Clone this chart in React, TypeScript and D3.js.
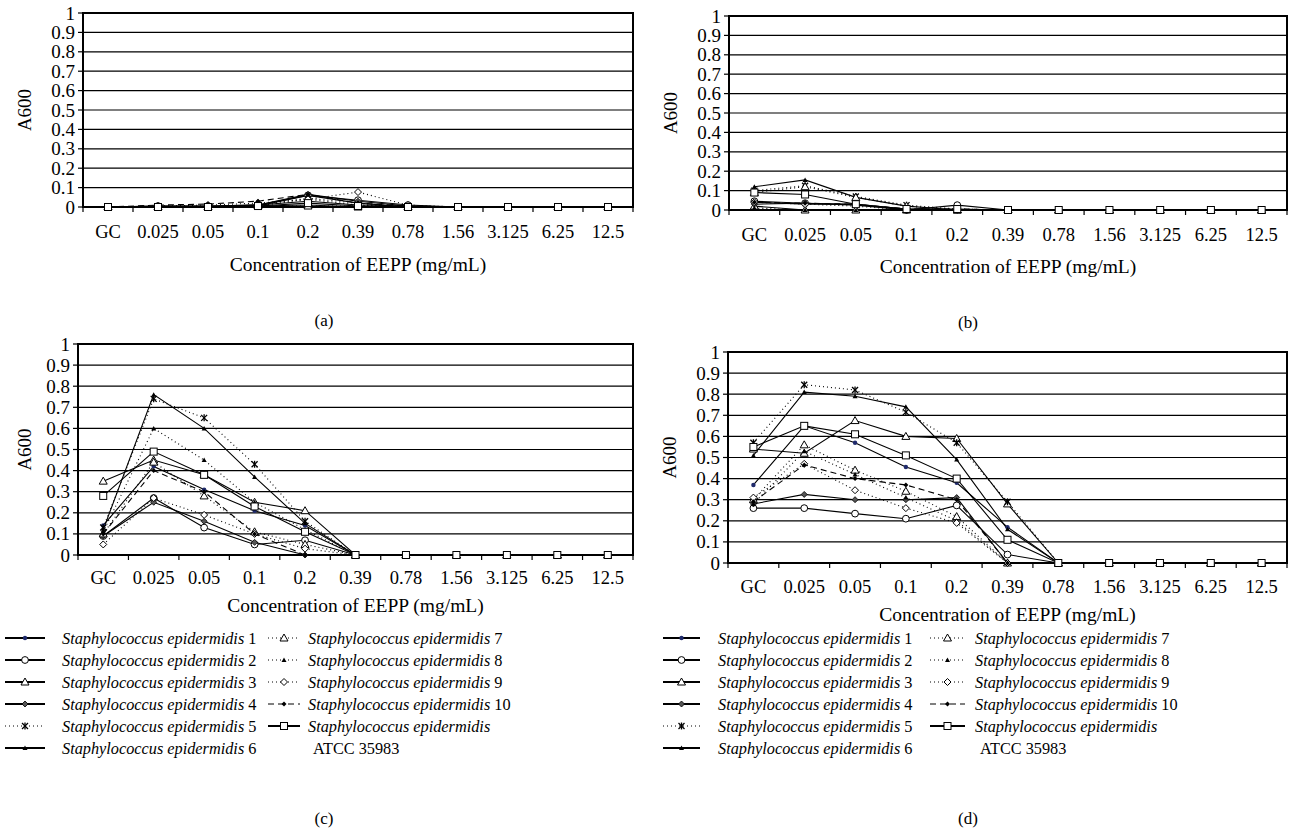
import React from "react";
import * as d3 from "d3";

const categories = ["GC", "0.025", "0.05", "0.1", "0.2", "0.39", "0.78", "1.56", "3.125", "6.25", "12.5"];
const yTicks = [0, 0.1, 0.2, 0.3, 0.4, 0.5, 0.6, 0.7, 0.8, 0.9, 1];
const seriesNumbers = ["1", "2", "3", "4", "5", "6", "7", "8", "9", "10", "ATCC 35983"];

// series order: S.e. 1..10, ATCC 35983
const panelA: number[][] = [
  [0, 0, 0, 0.01, 0.03, 0.01, 0.005, 0, 0, 0, 0],
  [0, 0.005, 0.005, 0.01, 0.06, 0.035, 0.01, 0, 0, 0, 0],
  [0, 0, 0, 0.005, 0.01, 0, 0, 0, 0, 0, 0],
  [0, 0.005, 0.005, 0.01, 0.065, 0.03, 0.005, 0, 0, 0, 0],
  [0, 0, 0, 0.005, 0.04, 0.01, 0, 0, 0, 0, 0],
  [0, 0, 0, 0.005, 0.06, 0.02, 0, 0, 0, 0, 0],
  [0, 0, 0, 0.005, 0.005, 0.005, 0, 0, 0, 0, 0],
  [0, 0, 0, 0.01, 0.045, 0.02, 0, 0, 0, 0, 0],
  [0, 0.005, 0.01, 0.02, 0.04, 0.077, 0.01, 0, 0, 0, 0],
  [0, 0.01, 0.015, 0.03, 0.065, 0.02, 0.005, 0, 0, 0, 0],
  [0, 0, 0, 0.005, 0.02, 0.005, 0, 0, 0, 0, 0],
];

const panelB: number[][] = [
  [0.04, 0.03, 0.03, 0.005, 0, 0, 0, 0, 0, 0, 0],
  [0.045, 0.035, 0.03, 0, 0.025, 0, 0, 0, 0, 0, 0],
  [0.02, 0, 0, 0, 0, 0, 0, 0, 0, 0, 0],
  [0.03, 0.035, 0.025, 0, 0, 0, 0, 0, 0, 0, 0],
  [0.1, 0.125, 0.07, 0.025, 0.005, 0, 0, 0, 0, 0, 0],
  [0.12, 0.155, 0.065, 0.02, 0, 0, 0, 0, 0, 0, 0],
  [0.09, 0.12, 0.065, 0.02, 0, 0, 0, 0, 0, 0, 0],
  [0.01, 0, 0, 0, 0, 0, 0, 0, 0, 0, 0],
  [0.04, 0.03, 0.02, 0, 0, 0, 0, 0, 0, 0, 0],
  [0.04, 0.035, 0.03, 0.005, 0.005, 0, 0, 0, 0, 0, 0],
  [0.09, 0.08, 0.03, 0.005, 0.005, 0, 0, 0, 0, 0, 0],
];

const panelC: number[][] = [
  [0.14, 0.42, 0.31, 0.21, 0.14, 0, 0, 0, 0, 0, 0],
  [0.09, 0.27, 0.13, 0.05, 0.07, 0, 0, 0, 0, 0, 0],
  [0.35, 0.45, 0.38, 0.25, 0.21, 0, 0, 0, 0, 0, 0],
  [0.09, 0.25, 0.16, 0.06, 0, 0, 0, 0, 0, 0, 0],
  [0.13, 0.74, 0.65, 0.43, 0.16, 0, 0, 0, 0, 0, 0],
  [0.12, 0.76, 0.6, 0.37, 0.15, 0, 0, 0, 0, 0, 0],
  [0.1, 0.44, 0.28, 0.11, 0.05, 0, 0, 0, 0, 0, 0],
  [0.11, 0.6, 0.45, 0.25, 0.12, 0, 0, 0, 0, 0, 0],
  [0.05, 0.27, 0.19, 0.1, 0.03, 0, 0, 0, 0, 0, 0],
  [0.1, 0.4, 0.3, 0.1, 0, 0, 0, 0, 0, 0, 0],
  [0.28, 0.49, 0.38, 0.23, 0.11, 0, 0, 0, 0, 0, 0],
];

const panelD: number[][] = [
  [0.37, 0.65, 0.57, 0.455, 0.38, 0.17, 0, 0, 0, 0, 0],
  [0.26, 0.26, 0.234, 0.21, 0.273, 0.04, 0, 0, 0, 0, 0],
  [0.54, 0.52, 0.675, 0.6, 0.59, 0.28, 0, 0, 0, 0, 0],
  [0.28, 0.325, 0.3, 0.3, 0.31, 0, 0, 0, 0, 0, 0],
  [0.57, 0.845, 0.82, 0.715, 0.57, 0.29, 0, 0, 0, 0, 0],
  [0.51, 0.81, 0.79, 0.74, 0.49, 0.16, 0, 0, 0, 0, 0],
  [0.3, 0.56, 0.44, 0.34, 0.22, 0, 0, 0, 0, 0, 0],
  [0.28, 0.53, 0.42, 0.31, 0.2, 0, 0, 0, 0, 0, 0],
  [0.31, 0.47, 0.345, 0.26, 0.19, 0, 0, 0, 0, 0, 0],
  [0.29, 0.465, 0.4, 0.37, 0.3, 0, 0, 0, 0, 0, 0],
  [0.55, 0.65, 0.61, 0.51, 0.4, 0.11, 0, 0, 0, 0, 0],
];

type SeriesStyle = { dash: string | null; marker: string };
const seriesStyles: SeriesStyle[] = [
  { dash: null, marker: "dot" },
  { dash: null, marker: "circle" },
  { dash: null, marker: "triangle" },
  { dash: null, marker: "diamondSmall" },
  { dash: "1,3", marker: "star" },
  { dash: null, marker: "triSmall" },
  { dash: "1,3", marker: "triangle" },
  { dash: "1,3", marker: "triSmall" },
  { dash: "1,3", marker: "diamond" },
  { dash: "6,4", marker: "plus" },
  { dash: null, marker: "square" },
];

const FONT = "'Liberation Serif', 'Times New Roman', serif";

function Marker({ type, x, y }: { type: string; x: number; y: number }) {
  switch (type) {
    case "dot":
      return <circle cx={x} cy={y} r={2.2} fill="#1f2a6b" />;
    case "circle":
      return <circle cx={x} cy={y} r={3.4} fill="white" stroke="black" strokeWidth={1} />;
    case "triangle":
      return (
        <path
          d={`M${x},${y - 4}L${x + 4},${y + 3}L${x - 4},${y + 3}Z`}
          fill="white"
          stroke="black"
          strokeWidth={1}
        />
      );
    case "triSmall":
      return <path d={`M${x},${y - 2.5}L${x + 2.5},${y + 2}L${x - 2.5},${y + 2}Z`} fill="black" />;
    case "diamondSmall":
      return (
        <path
          d={`M${x},${y - 3}L${x + 3},${y}L${x},${y + 3}L${x - 3},${y}Z`}
          fill="#555"
          stroke="black"
          strokeWidth={0.8}
        />
      );
    case "diamond":
      return (
        <path
          d={`M${x},${y - 3.5}L${x + 3.5},${y}L${x},${y + 3.5}L${x - 3.5},${y}Z`}
          fill="white"
          stroke="black"
          strokeWidth={1}
        />
      );
    case "star":
      return (
        <g stroke="black" strokeWidth={1.3}>
          <line x1={x - 3} y1={y - 3} x2={x + 3} y2={y + 3} />
          <line x1={x - 3} y1={y + 3} x2={x + 3} y2={y - 3} />
          <line x1={x} y1={y - 3.5} x2={x} y2={y + 3.5} />
        </g>
      );
    case "plus":
      return <path d={`M${x},${y - 2.5}L${x + 2.5},${y}L${x},${y + 2.5}L${x - 2.5},${y}Z`} fill="black" />;
    case "square":
      return (
        <rect x={x - 3.5} y={y - 3.5} width={7} height={7} fill="white" stroke="black" strokeWidth={1} />
      );
    default:
      return null;
  }
}

type PanelSpec = {
  data: number[][];
  left: number;
  right: number;
  top: number;
  bottom: number;
  label: string;
  labelX: number;
  labelY: number | null;
  yTitleX: number;
  tickOffset: number;
  titleOffset: number;
};

function Panel({ spec }: { spec: PanelSpec }) {
  const x = d3.scaleBand<string>().domain(categories).range([spec.left, spec.right]).padding(0);
  const y = d3.scaleLinear().domain([0, 1]).range([spec.bottom, spec.top]);
  const line = d3
    .line<number>()
    .x((_, i) => (x(categories[i]) as number) + x.bandwidth() / 2)
    .y((v) => y(v));
  const boundaries = categories.map((c) => x(c) as number).concat([spec.right]);
  const midX = (spec.left + spec.right) / 2;
  return (
    <g>
      {yTicks.slice(1, -1).map((t) => (
        <line key={"g" + t} x1={spec.left} x2={spec.right} y1={y(t)} y2={y(t)} stroke="black" strokeWidth={1.2} />
      ))}
      <rect
        x={spec.left}
        y={spec.top}
        width={spec.right - spec.left}
        height={spec.bottom - spec.top}
        fill="none"
        stroke="black"
        strokeWidth={2}
      />
      {yTicks.map((t) => (
        <g key={"yt" + t}>
          <line x1={spec.left - 5} x2={spec.left} y1={y(t)} y2={y(t)} stroke="black" strokeWidth={1.2} />
          <text
            x={spec.left - 8}
            y={y(t) + 6.5}
            textAnchor="end"
            fontFamily={FONT}
            fontSize={19}
            fill="black"
          >
            {String(t)}
          </text>
        </g>
      ))}
      {boundaries.map((b, i) => (
        <line key={"xt" + i} x1={b} x2={b} y1={spec.bottom} y2={spec.bottom + 5} stroke="black" strokeWidth={1.2} />
      ))}
      {categories.map((c) => (
        <text
          key={"xl" + c}
          x={(x(c) as number) + x.bandwidth() / 2}
          y={spec.bottom + spec.tickOffset}
          textAnchor="middle"
          fontFamily={FONT}
          fontSize={18.5}
          fill="black"
        >
          {c}
        </text>
      ))}
      <text
        x={midX}
        y={spec.bottom + spec.titleOffset}
        textAnchor="middle"
        fontFamily={FONT}
        fontSize={19.5}
        fill="black"
      >
        Concentration of EEPP (mg/mL)
      </text>
      <text
        transform={`translate(${spec.yTitleX},${(spec.top + spec.bottom) / 2}) rotate(-90)`}
        textAnchor="middle"
        fontFamily={FONT}
        fontSize={19}
        fill="black"
      >
        A600
      </text>
      {spec.data.map((vals, si) => (
        <path
          key={"l" + si}
          d={line(vals) as string}
          fill="none"
          stroke="black"
          strokeWidth={1.1}
          strokeDasharray={seriesStyles[si].dash ?? undefined}
        />
      ))}
      {spec.data.map((vals, si) =>
        vals.map((v, i) => (
          <Marker
            key={"m" + si + "-" + i}
            type={seriesStyles[si].marker}
            x={(x(categories[i]) as number) + x.bandwidth() / 2}
            y={y(v)}
          />
        ))
      )}
      {spec.labelY !== null && (
        <text x={spec.labelX} y={spec.labelY} textAnchor="middle" fontFamily={FONT} fontSize={17} fill="black">
          {spec.label}
        </text>
      )}
    </g>
  );
}

function Legend({
  leftX0,
  leftX1,
  leftText,
  rightX0,
  rightX1,
  rightText,
  top,
  step,
}: {
  leftX0: number;
  leftX1: number;
  leftText: number;
  rightX0: number;
  rightX1: number;
  rightText: number;
  top: number;
  step: number;
}) {
  const items = seriesNumbers.map((num, i) => {
    const col = i < 6 ? 0 : 1;
    const row = i < 6 ? i : i - 6;
    return { num, i, col, row };
  });
  return (
    <g>
      {items.map(({ num, i, col, row }) => {
        const cy = top + row * step;
        const x0 = col === 0 ? leftX0 : rightX0;
        const x1 = col === 0 ? leftX1 : rightX1;
        const tx = col === 0 ? leftText : rightText;
        const st = seriesStyles[i];
        const isAtcc = num.startsWith("ATCC");
        return (
          <g key={"lg" + i}>
            <line
              x1={x0}
              x2={x1}
              y1={cy}
              y2={cy}
              stroke="black"
              strokeWidth={st.dash ? 1 : 2}
              strokeDasharray={st.dash ?? undefined}
            />
            <Marker type={st.marker} x={(x0 + x1) / 2} y={cy} />
            <text x={tx} y={cy + 6} fontFamily={FONT} fontSize={16.3} fill="black">
              <tspan fontStyle="italic">Staphylococcus epidermidis</tspan>
              {isAtcc ? "" : " " + num}
            </text>
            {isAtcc && (
              <text x={tx + 5} y={cy + step + 6} fontFamily={FONT} fontSize={16.3} fill="black">
                {num}
              </text>
            )}
          </g>
        );
      })}
    </g>
  );
}

export default function App() {
  const panels: PanelSpec[] = [
    { data: panelA, left: 83, right: 633, top: 13, bottom: 207, label: "(a)", labelX: 324, labelY: 326, yTitleX: 31, tickOffset: 31, titleOffset: 64 },
    { data: panelB, left: 729, right: 1287, top: 16, bottom: 210, label: "(b)", labelX: 968, labelY: 328, yTitleX: 677, tickOffset: 31, titleOffset: 63 },
    { data: panelC, left: 78, right: 633, top: 344, bottom: 555, label: "(c)", labelX: 324, labelY: null, yTitleX: 31, tickOffset: 29, titleOffset: 57 },
    { data: panelD, left: 728, right: 1287, top: 352, bottom: 563, label: "(d)", labelX: 968, labelY: null, yTitleX: 676, tickOffset: 30, titleOffset: 58 },
  ];
  return (
    <svg
      width={1296}
      height={840}
      style={{ position: "absolute", left: 0, top: 0, background: "white" }}
    >
      <rect x={0} y={0} width={1296} height={840} fill="white" />
      {panels.map((p, i) => (
        <Panel key={i} spec={p} />
      ))}
      <Legend leftX0={5} leftX1={45} leftText={62} rightX0={268} rightX1={300} rightText={308} top={638} step={22} />
      <Legend leftX0={663} leftX1={700} leftText={718} rightX0={930} rightX1={965} rightText={975} top={638} step={22} />
      <text x={324} y={824} textAnchor="middle" fontFamily={FONT} fontSize={17} fill="black">
        (c)
      </text>
      <text x={968} y={824} textAnchor="middle" fontFamily={FONT} fontSize={17} fill="black">
        (d)
      </text>
    </svg>
  );
}
